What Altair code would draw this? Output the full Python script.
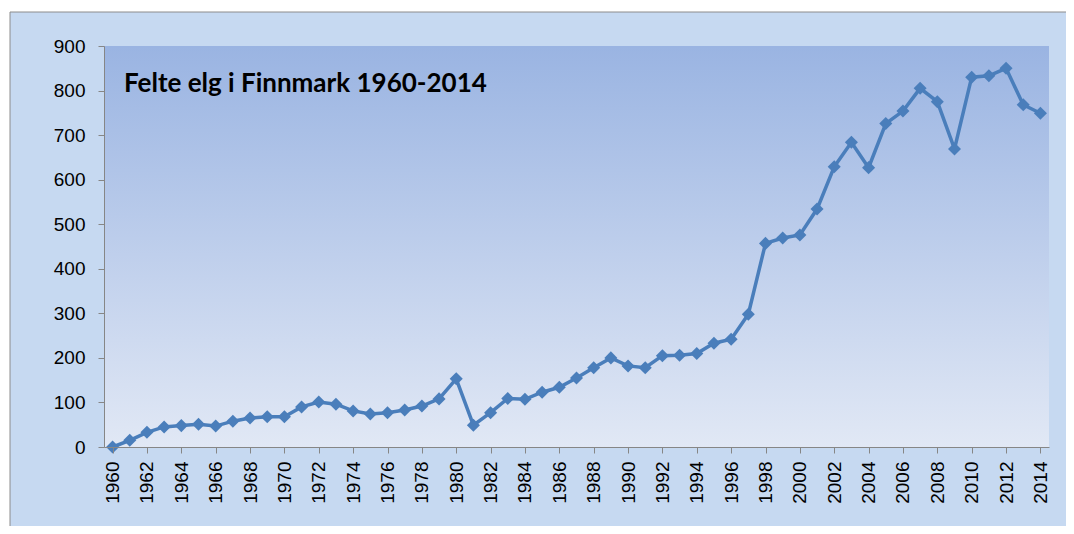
import altair as alt
import pandas as pd

# ---- data ----
years = list(range(1960, 2015))
felte_elg = [
    0, 15, 33, 45, 48, 51, 47, 58, 65, 68,
    68, 90, 101, 96, 81, 74, 77, 83, 92, 108,
    153, 49, 77, 109, 107, 123, 134, 155, 178, 200,
    182, 178, 205, 206, 210, 233, 242, 298, 457, 469,
    476, 534, 629, 684, 627, 726, 754, 805, 775, 669,
    830, 833, 850, 768, 749,
]
y_ticks = list(range(0, 1000, 100))
x_label_years = [y for y in years if y % 2 == 0]
title_text = "Felte elg i Finnmark 1960-2014"

df = pd.DataFrame({"year": years, "elg": felte_elg})

W, H = 945, 401
LINE = "#4a7ebb"
AXIS_GREY = "#868686"

x_enc = alt.X(
    "year:O",
    scale=alt.Scale(paddingInner=0, paddingOuter=0),
    axis=alt.Axis(
        title=None,
        values=x_label_years,
        bandPosition=0,
        labelAngle=-90,
        labelFont="Liberation Sans",
        labelFontSize=19,
        labelColor="#000000",
        labelPadding=8,
        tickSize=6,
        tickColor=AXIS_GREY,
        domainColor=AXIS_GREY,
        grid=False,
        zindex=1,
    ),
)
y_enc = alt.Y(
    "elg:Q",
    scale=alt.Scale(domain=[0, 900], nice=False, zero=True),
    axis=alt.Axis(
        title=None,
        values=y_ticks,
        labelFont="Liberation Sans",
        labelFontSize=19,
        labelColor="#000000",
        labelPadding=13,
        tickSize=6,
        tickColor=AXIS_GREY,
        domainColor=AXIS_GREY,
        grid=False,
        zindex=1,
    ),
)

one = alt.Data(values=[{}])

frame = alt.Chart(one).mark_rect(
    fill="#c6d9f1", stroke="#8c8c8c", strokeWidth=1
).encode(
    x=alt.value(-94), x2=alt.value(W + 60),
    y=alt.value(-34), y2=alt.value(H + 140),
)

plot_bg = alt.Chart(one).mark_rect(
    fill=alt.Gradient(
        gradient="linear",
        stops=[
            alt.GradientStop(color="#9ab4e2", offset=0),
            alt.GradientStop(color="#e1e8f5", offset=1),
        ],
        x1=0, x2=0, y1=0, y2=1,
    )
).encode(
    x=alt.value(0), x2=alt.value(W),
    y=alt.value(0), y2=alt.value(H),
)

line = alt.Chart(df).mark_line(color=LINE, strokeWidth=3.5).encode(x=x_enc, y=y_enc)
points = alt.Chart(df).mark_point(
    shape="diamond", filled=True, size=170, color=LINE, opacity=1
).encode(x=x_enc, y=y_enc)

title = alt.Chart(one).mark_text(
    text=title_text,
    font="Lato",
    fontWeight="bold",
    fontSize=26,
    align="left",
    baseline="alphabetic",
    color="#000000",
).encode(x=alt.value(20), y=alt.value(46))

chart = alt.layer(frame, plot_bg, line, points, title).properties(
    width=W,
    height=H,
    padding={"left": 96, "top": 38, "right": 17, "bottom": 79},
    autosize=alt.AutoSizeParams(type="none"),
    background="white",
).configure_view(stroke=None)

chart.save("out.html", embed_options={"renderer": "svg", "actions": False})
